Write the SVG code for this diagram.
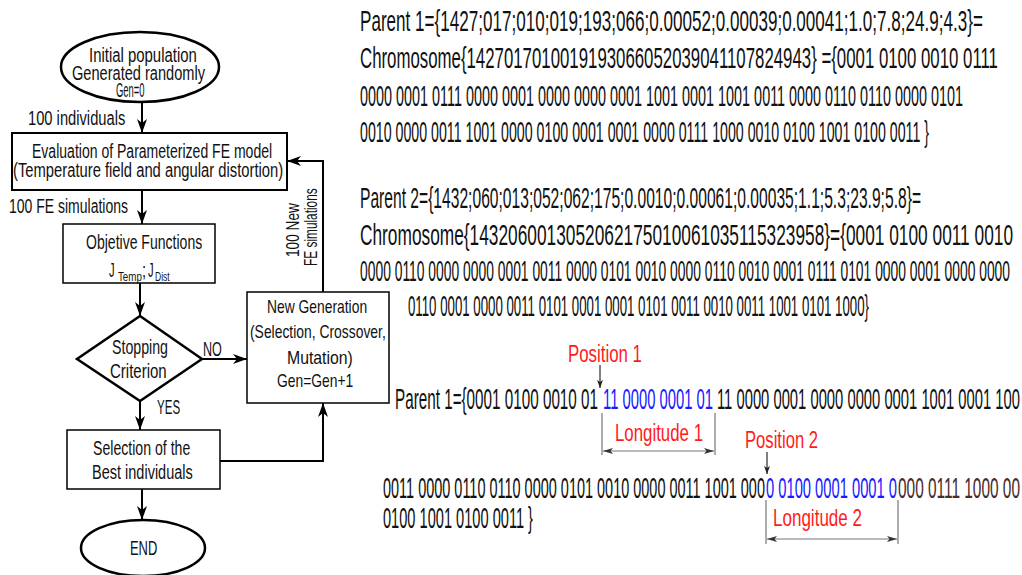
<svg xmlns="http://www.w3.org/2000/svg" width="1022" height="575" viewBox="0 0 1022 575">
<style>
text{font-family:"Liberation Sans","DejaVu Sans",sans-serif;fill:#111}
.f{font-size:21px}
.g{font-size:19px}
.s{font-size:13px}
.r{font-size:29px}
.red{font-size:24px;fill:#ff1a1a}
.blue{fill:#1a1aff}
.brown{fill:#4a2c2c}
.shape{fill:#fff;stroke:#000}
.conn{fill:none;stroke:#000;stroke-width:2}
.thin{fill:none;stroke:#000;stroke-width:1}
.dim{fill:none;stroke:#777;stroke-width:1.2}
</style>
<defs>
<marker id="ah" viewBox="0 0 14 10" refX="14" refY="5" markerWidth="14" markerHeight="10" markerUnits="userSpaceOnUse" orient="auto"><path d="M0,0 L14,5 L0,10 L4,5 z" fill="#000"/></marker>
<marker id="sa" viewBox="0 0 8 6" refX="8" refY="3" markerWidth="8" markerHeight="6" markerUnits="userSpaceOnUse" orient="auto"><path d="M0,0 L8,3 L0,6 L2,3 z" fill="#222"/></marker>
<marker id="da" viewBox="0 0 10 6" refX="10" refY="3" markerWidth="10" markerHeight="6" markerUnits="userSpaceOnUse" orient="auto-start-reverse"><path d="M0,0 L10,3 L0,6 L2.5,3 z" fill="#333"/></marker>
</defs>
<rect width="1022" height="575" fill="#fff"/>

<g id="connectors">
<line class="conn" x1="142" y1="102" x2="142" y2="133" marker-end="url(#ah)"/>
<line class="conn" x1="142" y1="190" x2="142" y2="224" marker-end="url(#ah)"/>
<line class="conn" x1="140" y1="283" x2="140" y2="316" marker-end="url(#ah)"/>
<line class="conn" x1="202" y1="359" x2="247" y2="359" marker-end="url(#ah)"/>
<line class="conn" x1="140" y1="401" x2="140" y2="430" marker-end="url(#ah)"/>
<line class="conn" x1="142" y1="489" x2="142" y2="520" marker-end="url(#ah)"/>
<polyline class="conn" points="220,461 323,461 323,403" marker-end="url(#ah)"/>
<polyline class="conn" points="323,292 323,161 287,161" marker-end="url(#ah)"/>
<text class="f" transform="translate(28,125) scale(0.7,1)" textLength="139" lengthAdjust="spacingAndGlyphs">100 individuals</text>
<text class="f" transform="translate(9,213) scale(0.7,1)" textLength="170" lengthAdjust="spacingAndGlyphs">100 FE simulations</text>
<text class="f" transform="translate(203,356) scale(0.7,1)" textLength="27" lengthAdjust="spacingAndGlyphs">NO</text>
<text class="f" transform="translate(157,414) scale(0.7,1)" textLength="33" lengthAdjust="spacingAndGlyphs">YES</text>
<text class="g" transform="translate(299,230) rotate(-90) scale(0.7,1)" x="-38.6" textLength="77" lengthAdjust="spacingAndGlyphs">100 New</text>
<text class="g" transform="translate(317,227) rotate(-90) scale(0.7,1)" x="-55.7" textLength="111" lengthAdjust="spacingAndGlyphs">FE simulations</text>
</g>

<g id="start">
<ellipse class="shape" cx="140" cy="67" rx="79" ry="35" stroke-width="2.5"/>
<text class="f" transform="translate(89,62) scale(0.7,1)" textLength="154" lengthAdjust="spacingAndGlyphs">Initial population</text>
<text class="f" transform="translate(72,80) scale(0.7,1)" textLength="190" lengthAdjust="spacingAndGlyphs">Generated randomly</text>
<text class="f" transform="translate(116,97) scale(0.45,1)" textLength="63.6" lengthAdjust="spacingAndGlyphs">Gen=0</text>
</g>

<g id="evaluation">
<rect class="shape" x="12" y="133" width="275" height="57" stroke-width="2"/>
<text class="f" transform="translate(32,158) scale(0.7,1)" textLength="343" lengthAdjust="spacingAndGlyphs">Evaluation of Parameterized FE model</text>
<text class="f" transform="translate(13,177) scale(0.7,1)" textLength="386" lengthAdjust="spacingAndGlyphs">(Temperature field and angular distortion)</text>
</g>

<g id="objective">
<rect class="shape" x="63" y="224" width="152" height="59" stroke-width="1.5"/>
<text class="f" transform="translate(86,249) scale(0.7,1)" textLength="166" lengthAdjust="spacingAndGlyphs">Objetive Functions</text>
<text class="f" transform="translate(109,277) scale(0.7,1)" textLength="8" lengthAdjust="spacingAndGlyphs">J</text>
<text class="s" transform="translate(118,281) scale(0.7,1)" textLength="34" lengthAdjust="spacingAndGlyphs">Temp</text>
<text class="f" transform="translate(142,277) scale(0.7,1)">;</text>
<text class="f" transform="translate(148,277) scale(0.7,1)" textLength="8" lengthAdjust="spacingAndGlyphs">J</text>
<text class="s" transform="translate(155,281) scale(0.7,1)" textLength="21" lengthAdjust="spacingAndGlyphs">Dist</text>
</g>

<g id="stopping">
<polygon class="shape" points="140,316 202,359 140,401 77,359" stroke-width="2.5"/>
<text class="f" transform="translate(112,354) scale(0.7,1)" textLength="80" lengthAdjust="spacingAndGlyphs">Stopping</text>
<text class="f" transform="translate(110,378) scale(0.7,1)" textLength="81" lengthAdjust="spacingAndGlyphs">Criterion</text>
</g>

<g id="newgen">
<rect class="shape" x="247" y="292" width="142" height="111" stroke-width="1.5"/>
<text class="g" transform="translate(267,313) scale(0.7,1)" textLength="143" lengthAdjust="spacingAndGlyphs">New Generation</text>
<text class="g" transform="translate(250,338) scale(0.7,1)" textLength="194" lengthAdjust="spacingAndGlyphs">(Selection, Crossover,</text>
<text class="g" transform="translate(287,364) scale(0.7,1)" textLength="94" lengthAdjust="spacingAndGlyphs">Mutation)</text>
<text class="g" transform="translate(277,387) scale(0.7,1)" textLength="109" lengthAdjust="spacingAndGlyphs">Gen=Gen+1</text>
</g>

<g id="selection">
<rect class="shape" x="67" y="430" width="153" height="59" stroke="#555" stroke-width="1.5"/>
<text class="f" transform="translate(93,455) scale(0.7,1)" textLength="139" lengthAdjust="spacingAndGlyphs">Selection of the</text>
<text class="f" transform="translate(92,479) scale(0.7,1)" textLength="144" lengthAdjust="spacingAndGlyphs">Best individuals</text>
</g>

<g id="end">
<ellipse class="shape" cx="143" cy="548" rx="62" ry="28" stroke-width="2.5"/>
<text class="f" transform="translate(130,555) scale(0.7,1)" textLength="39" lengthAdjust="spacingAndGlyphs">END</text>
</g>

<g id="parents">
<text class="r" transform="translate(360,31) scale(0.589,1)" textLength="1057.7" lengthAdjust="spacingAndGlyphs">Parent 1={1427;017;010;019;193;066;0.00052;0.00039;0.00041;1.0;7.8;24.9;4.3}=</text>
<text class="r" transform="translate(360,68) scale(0.5722,1)" textLength="1114.9" lengthAdjust="spacingAndGlyphs">Chromosome{1427017010019193066052039041107824943}  ={0001 0100 0010 0111</text>
<text class="r" transform="translate(360,106) scale(0.4889,1)" textLength="1233.5" lengthAdjust="spacingAndGlyphs">0000 0001 0111 0000 0001 0000 0000 0001 1001 0001 1001 0011 0000 0110  0110 0000 0101</text>
<text class="r" transform="translate(360,142) scale(0.4861,1)" textLength="1170.6" lengthAdjust="spacingAndGlyphs">0010 0000 0011 1001 0000 0100 0001 0001 0000 0111 1000 0010 0100 1001 0100 0011 }</text>
<text class="r" transform="translate(360,208) scale(0.5386,1)" textLength="1041.6" lengthAdjust="spacingAndGlyphs">Parent 2={1432;060;013;052;062;175;0.0010;0.00061;0.00035;1.1;5.3;23.9;5.8}=</text>
<text class="r" transform="translate(360,245) scale(0.5943,1)" textLength="1098.8" lengthAdjust="spacingAndGlyphs">Chromosome{1432060013052062175010061035115323958}={0001 0100 0011 0010</text>
<text class="r" transform="translate(360,281) scale(0.4743,1)" textLength="1370.5" lengthAdjust="spacingAndGlyphs">0000 0110 0000 0000 0001 0011 0000 0101 0010 0000 0110 0010 0001 0111 0101 0000 0001 0000 0000</text>
<text class="r" transform="translate(408,316) scale(0.4531,1)" textLength="1017.4" lengthAdjust="spacingAndGlyphs">0110 0001 0000 0011 0101 0001 0001 0101 0011 0010 0011 1001 0101 1000}</text>
</g>

<g id="crossover">
<text class="red" transform="translate(568,362) scale(0.702,1)" textLength="105.4" lengthAdjust="spacingAndGlyphs">Position 1</text>
<line class="thin" x1="600" y1="365" x2="600" y2="388" marker-end="url(#sa)"/>
<text class="r" transform="translate(395,409) scale(0.5257,1)" textLength="386.2" lengthAdjust="spacingAndGlyphs">Parent 1={0001 0100 0010 01</text>
<text class="r blue" transform="translate(603,409) scale(0.5053,1)" textLength="217.7" lengthAdjust="spacingAndGlyphs">11 0000 0001 01</text>
<text class="r" transform="translate(717,409) scale(0.5079,1)" textLength="596.6" lengthAdjust="spacingAndGlyphs">11 0000 0001 0000 0000 0001 1001 0001 100</text>
<line class="dim" x1="602" y1="413" x2="602" y2="455"/>
<line class="dim" x1="715" y1="413" x2="715" y2="455"/>
<line class="dim" x1="603" y1="451" x2="714" y2="451" marker-start="url(#da)" marker-end="url(#da)"/>
<text class="red" transform="translate(615,441) scale(0.7018,1)" textLength="125.4" lengthAdjust="spacingAndGlyphs">Longitude 1</text>
<text class="red" transform="translate(745,448) scale(0.6926,1)" textLength="105.4" lengthAdjust="spacingAndGlyphs">Position 2</text>
<line class="thin" x1="767" y1="452" x2="767" y2="474" marker-end="url(#sa)"/>
<text class="r" transform="translate(383,498) scale(0.4786,1)" textLength="798.1" lengthAdjust="spacingAndGlyphs">0011 0000 0110  0110 0000 0101  0010 0000  0011 1001 000</text>
<text class="r blue" transform="translate(766,498) scale(0.4925,1)" textLength="266" lengthAdjust="spacingAndGlyphs">0 0100  0001 0001 0</text>
<text class="r brown" transform="translate(898,498) scale(0.5044,1)" textLength="241.9" lengthAdjust="spacingAndGlyphs">000 0111 1000  00</text>
<text class="r" transform="translate(383,528) scale(0.5002,1)" textLength="299.9" lengthAdjust="spacingAndGlyphs">0100 1001 0100 0011 }</text>
<line class="dim" x1="766" y1="500" x2="766" y2="544"/>
<line class="dim" x1="898" y1="500" x2="898" y2="544"/>
<line class="dim" x1="767" y1="539" x2="897" y2="539" marker-start="url(#da)" marker-end="url(#da)"/>
<text class="red" transform="translate(773,526) scale(0.7097,1)" textLength="125.4" lengthAdjust="spacingAndGlyphs">Longitude 2</text>
</g>
</svg>
